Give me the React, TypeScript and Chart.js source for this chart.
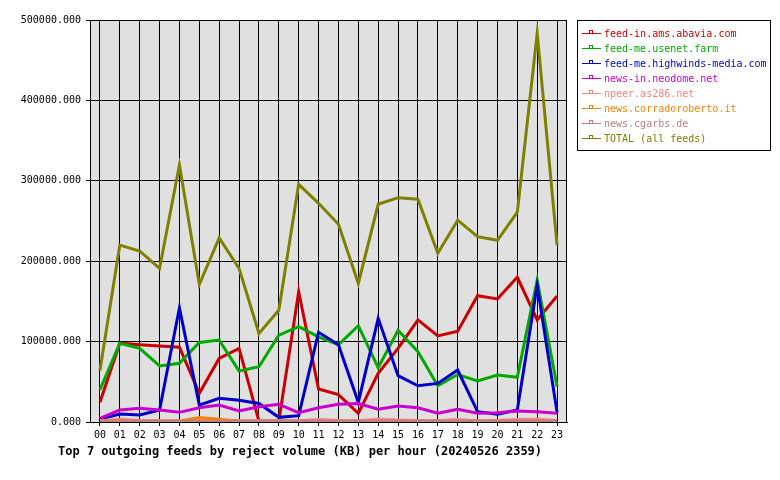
import React, { useEffect, useRef } from "react";
import { Chart, registerables } from "chart.js";

Chart.register(...registerables);

const HOURS = ["00","01","02","03","04","05","06","07","08","09","10","11","12","13","14","15","16","17","18","19","20","21","22","23"];
const Y_TICKS = [0, 100000, 200000, 300000, 400000, 500000];

const feedInAms = [24500, 98000, 96000, 94500, 93000, 35700, 79000, 91600, 1000, 1000, 162000, 41000, 34000, 10800, 60500, 91600, 127000, 107000, 113000, 157000, 153000, 180000, 127000, 156700];
const feedMeUsenet = [40000, 98000, 91600, 69700, 73000, 99000, 102000, 63400, 68800, 108000, 118600, 106000, 96000, 119800, 67600, 114000, 87500, 45000, 59000, 51000, 58500, 55600, 176600, 44000];
const feedMeHighwinds = [3700, 10000, 8700, 15000, 142000, 21000, 29500, 27000, 23000, 5800, 7900, 111600, 96000, 24500, 129000, 57600, 45000, 48000, 64700, 12800, 9600, 15000, 170000, 12000];
const newsInNeodome = [4600, 15000, 17000, 15000, 12000, 17800, 21000, 13700, 19000, 22000, 11600, 17800, 22000, 23000, 16000, 20000, 17800, 10800, 15800, 10800, 11600, 13700, 12800, 11000];
const npeerAs286 = [1500, 3500, 2000, 1500, 1500, 1500, 1500, 1500, 1500, 1500, 1500, 3000, 2000, 1500, 3500, 2500, 2000, 1500, 3000, 1500, 2000, 3000, 3500, 2000];
const newsCorrado = [800, 800, 800, 800, 1000, 5500, 3500, 800, 800, 800, 800, 800, 800, 800, 800, 800, 800, 800, 800, 800, 800, 800, 800, 800];
const newsCgarbs = [1300, 1300, 1300, 1300, 1300, 1300, 1300, 1300, 1300, 1300, 1300, 1300, 1300, 1300, 1300, 1300, 1300, 1300, 1300, 1300, 1300, 1300, 1300, 1300];
const totalAll = [64000, 220000, 212700, 191000, 319700, 171000, 229000, 191000, 110000, 139000, 295600, 272000, 246000, 172500, 270800, 279000, 277000, 209800, 251000, 230500, 226000, 261000, 483500, 220000];

const SERIES_LABELS = [
  "feed-in.ams.abavia.com",
  "feed-me.usenet.farm",
  "feed-me.highwinds-media.com",
  "news-in.neodome.net",
  "npeer.as286.net",
  "news.corradoroberto.it",
  "news.cgarbs.de",
  "TOTAL (all feeds)",
];
const SERIES_COLORS = ["#cc0000", "#00aa00", "#0000cc", "#cc00cc", "#ff8080", "#ff8000", "#c08080", "#808000"];
const SERIES_DATA = [feedInAms, feedMeUsenet, feedMeHighwinds, newsInNeodome, npeerAs286, newsCorrado, newsCgarbs, totalAll];

const TITLE = "Top 7 outgoing feeds by reject volume (KB) per hour (20240526 2359)";
const MONO = '"DejaVu Sans Mono", "Liberation Mono", monospace';

const decorPlugin = {
  id: "decor",
  beforeDraw(chart: any) {
    const { ctx, chartArea } = chart;
    ctx.save();
    ctx.fillStyle = "#ffffff";
    ctx.fillRect(0, 0, chart.width, chart.height);
    ctx.fillStyle = "#e0e0e0";
    ctx.fillRect(chartArea.left, chartArea.top, chartArea.right - chartArea.left, chartArea.bottom - chartArea.top);
    ctx.restore();
  },
  afterDraw(chart: any) {
    const { ctx, chartArea } = chart;
    ctx.save();
    ctx.strokeStyle = "#000";
    ctx.lineWidth = 1;
    ctx.strokeRect(Math.round(chartArea.left) + 0.5, Math.round(chartArea.top) + 0.5,
      Math.round(chartArea.right - chartArea.left) - 1, Math.round(chartArea.bottom - chartArea.top));

    // legend box
    const bx = 577, by = 20, bw = 193, bh = 130;
    ctx.strokeRect(bx + 0.5, by + 0.5, bw, bh);
    ctx.font = `10px ${MONO}`;
    ctx.textBaseline = "middle";
    ctx.textAlign = "left";
    SERIES_LABELS.forEach((label, i) => {
      const y = 33 + i * 15;
      const c = SERIES_COLORS[i];
      ctx.strokeStyle = c;
      ctx.lineWidth = 1;
      ctx.beginPath();
      ctx.moveTo(582, y + 0.5);
      ctx.lineTo(601, y + 0.5);
      ctx.stroke();
      ctx.strokeRect(589.5, y - 2.5, 3, 3);
      ctx.fillStyle = c;
      ctx.fillText(label, 604, y + 1);
    });

    // title
    ctx.fillStyle = "#000";
    ctx.font = `bold 12px ${MONO}`;
    ctx.textBaseline = "middle";
    ctx.fillText(TITLE, 58, 452);
    ctx.restore();
  },
};

export default function App() {
  const ref = useRef<HTMLCanvasElement | null>(null);
  useEffect(() => {
    if (!ref.current) return;
    const n = SERIES_DATA.length;
    const chart = new Chart(ref.current, {
      type: "line",
      data: {
        labels: HOURS,
        datasets: SERIES_DATA.map((d, i) => ({
          label: SERIES_LABELS[i],
          data: d,
          borderColor: SERIES_COLORS[i],
          backgroundColor: SERIES_COLORS[i],
          borderWidth: 3,
          pointRadius: 0,
          tension: 0,
          fill: false,
          order: n - i,
        })),
      },
      options: {
        responsive: false,
        animation: false,
        layout: { padding: { left: 0, right: 213, top: 20, bottom: 0 } },
        plugins: {
          legend: { display: false },
          title: { display: false },
          tooltip: { enabled: false },
        },
        scales: {
          x: {
            offset: true,
            grid: { offset: false, color: "#000", lineWidth: 1, tickLength: 4, drawTicks: true },
            border: { color: "#000" },
            ticks: { color: "#000", font: { family: MONO, size: 10 }, padding: 3, maxRotation: 0, autoSkip: false },
            afterFit: (s: any) => { s.height = 58; },
          },
          y: {
            min: 0,
            max: 500000,
            afterBuildTicks: (s: any) => { s.ticks = Y_TICKS.map((v) => ({ value: v })); },
            ticks: { color: "#000", font: { family: MONO, size: 10 }, padding: 5, callback: (v: any) => Number(v).toFixed(3) },
            grid: { color: "#000", lineWidth: 1, tickLength: 4 },
            border: { color: "#000" },
            afterFit: (s: any) => { s.width = 90; },
          },
        },
      },
      plugins: [decorPlugin],
    });
    return () => chart.destroy();
  }, []);
  return (
    <div style={{ position: "absolute", left: 0, top: 0, width: 780, height: 480 }}>
      <canvas ref={ref} width={780} height={480} style={{ width: 780, height: 480 }} />
    </div>
  );
}
